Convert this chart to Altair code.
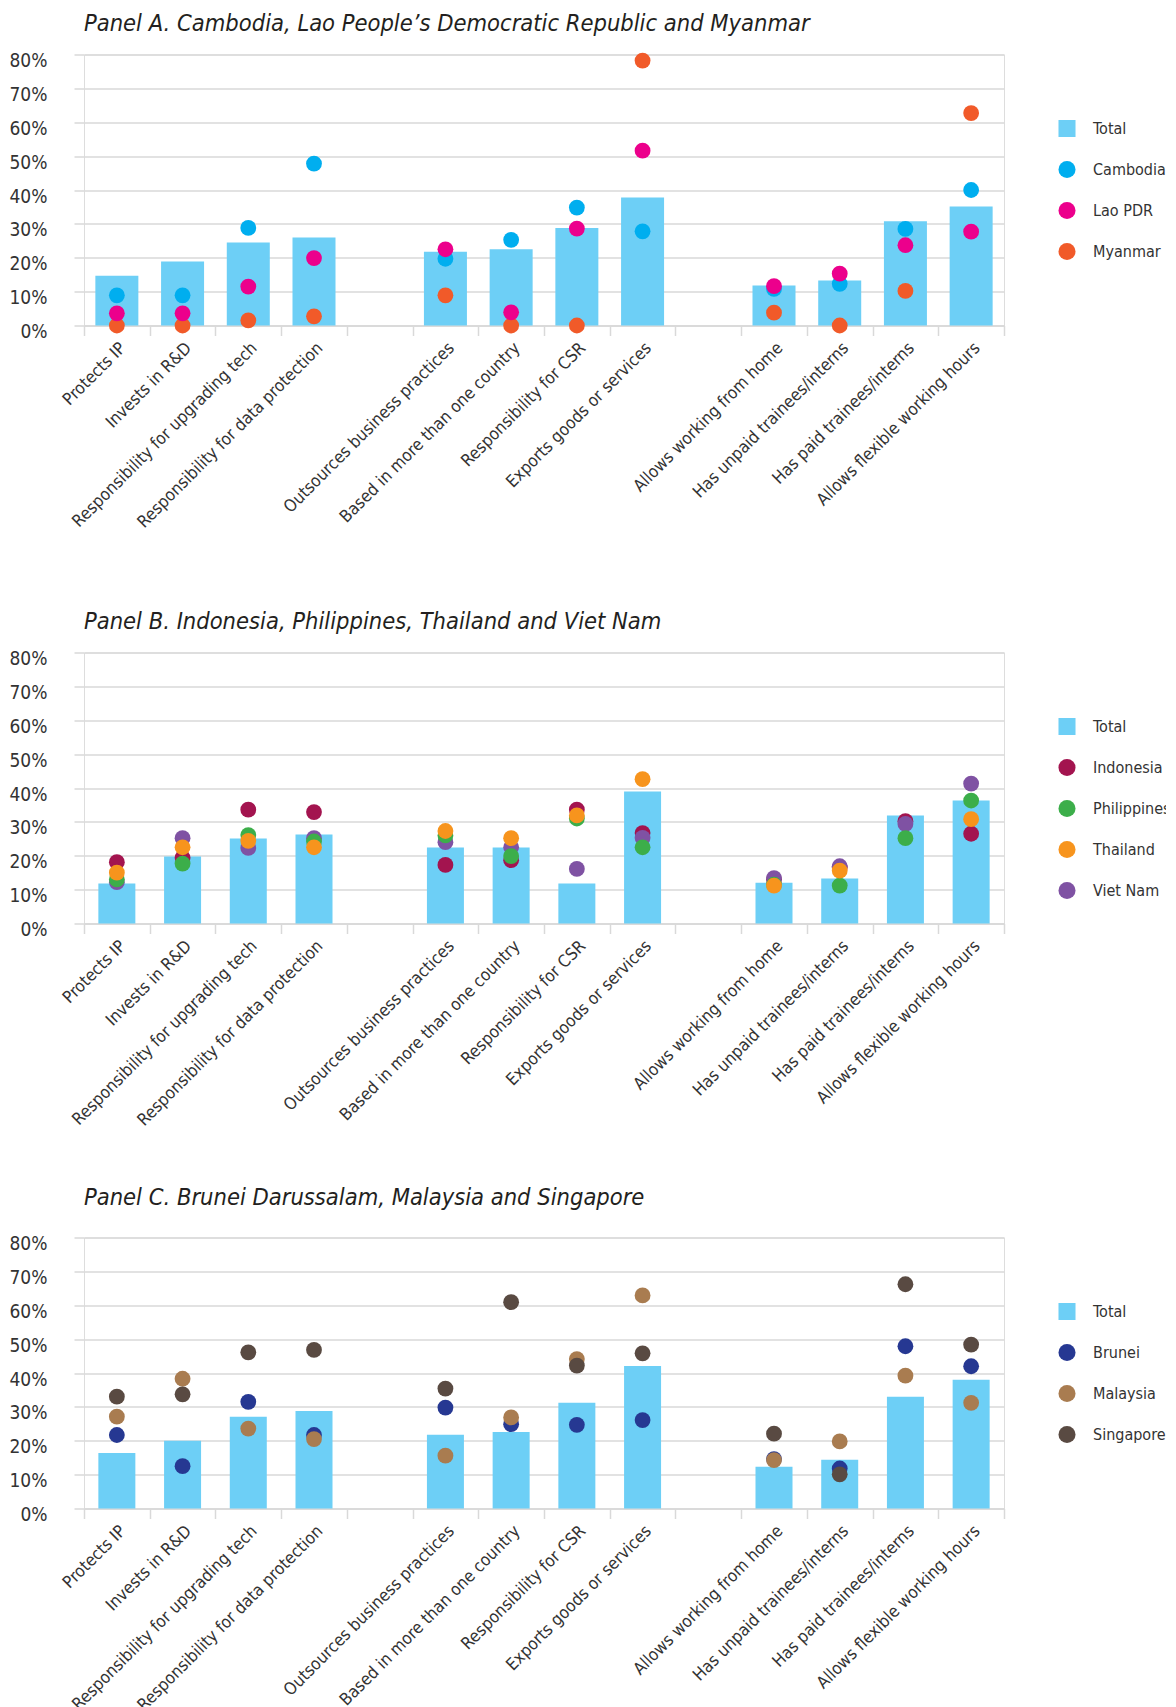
import altair as alt
import pandas as pd

# ---------------- data ----------------
AXIS_CATEGORIES = [
    "Protects IP", "Invests in R&D", "Responsibility for upgrading tech",
    "Responsibility for data protection", " ",
    "Outsources business practices", "Based in more than one country",
    "Responsibility for CSR", "Exports goods or services", "  ",
    "Allows working from home", "Has unpaid trainees/interns",
    "Has paid trainees/interns", "Allows flexible working hours",
]
CATEGORIES = [c for c in AXIS_CATEGORIES if c.strip()]

# Panel A
TOTAL_A = [14.7, 18.9, 24.5, 26.0, 21.8, 22.5, 28.8, 37.8, 11.8, 13.3, 30.8, 35.1]
MYANMAR = [0.0, 0.0, 1.5, 2.7, 8.9, 0.0, 0.0, 78.2, 3.8, 0.0, 10.2, 62.7]
CAMBODIA = [8.9, 8.9, 28.8, 47.8, 19.7, 25.3, 34.8, 27.8, 10.8, 12.3, 28.5, 40.0]
LAO = [3.6, 3.6, 11.5, 19.9, 22.5, 3.9, 28.6, 51.6, 11.6, 15.3, 23.7, 27.7]

# Panel B
TOTAL_B = [11.8, 19.8, 25.1, 26.3, 22.4, 22.4, 11.8, 39.0, 12.0, 13.3, 31.9, 36.3]
INDONESIA = [18.1, 19.4, 33.6, 32.9, 17.3, 18.7, 33.6, 26.7, 13.0, 16.5, 30.2, 26.5]
VIETNAM = [12.2, 25.2, 22.3, 25.2, 24.0, 22.5, 16.1, 25.3, 13.4, 16.9, 29.4, 41.3]
PHILIPPINES = [13.0, 17.7, 26.1, 24.2, 26.0, 19.9, 31.0, 22.5, 11.5, 11.2, 25.2, 36.3]
THAILAND = [15.0, 22.5, 24.4, 22.5, 27.3, 25.2, 31.9, 42.6, 11.2, 15.6, None, 30.8]

# Panel C
TOTAL_C = [16.4, 20.0, 27.1, 28.8, 21.8, 22.6, 31.2, 42.1, 12.3, 14.4, 33.0, 38.0]
BRUNEI = [21.7, 12.5, 31.5, 21.7, 29.8, 24.9, 24.7, 26.1, 14.6, 11.8, 47.9, 42.0]
MALAYSIA = [27.1, 38.3, 23.6, 20.5, 15.6, 26.9, 44.1, 62.9, 14.3, 19.8, 39.2, 31.2]
SINGAPORE = [33.0, 33.7, 46.1, 46.8, 35.4, 60.9, 42.2, 45.8, 22.1, 10.1, 66.2, 48.4]

Y_TICKS = [0, 10, 20, 30, 40, 50, 60, 70, 80]

# ---------------- style ----------------
FONT = "DejaVu Sans Condensed, Liberation Sans Narrow, Liberation Sans, sans-serif"
TEXT = "#333333"
GRID = "#d9d9d9"
TOTAL_COLOR = "#6dcff6"


def panel(title, legend_order, draw_order, colors, total, series, bar_size, title_offset):
    rows = [{"category": c, "series": "Total", "value": v} for c, v in zip(CATEGORIES, total)]
    for name in draw_order:
        for c, v in zip(CATEGORIES, series[name]):
            if v is None:
                continue
            rows.append({"category": c, "series": name, "value": v})
    df = pd.DataFrame(rows)
    domain = ["Total"] + legend_order
    color_scale = alt.Scale(domain=domain, range=[TOTAL_COLOR] + [colors[n] for n in legend_order])
    shape_scale = alt.Scale(domain=domain, range=["square"] + ["circle"] * len(legend_order))

    x = alt.X(
        "category:N",
        sort=AXIS_CATEGORIES,
        scale=alt.Scale(domain=AXIS_CATEGORIES, paddingInner=0, paddingOuter=0),
        title=None,
        axis=alt.Axis(
            labelAngle=-45, labelAlign="right", labelBaseline="top",
            tickBand="extent", tickSize=10, tickColor=GRID, tickWidth=1.5,
            domainColor=GRID, domainWidth=1.5, labelPadding=4,
            labelFont=FONT, labelFontSize=17, labelColor=TEXT, labelLimit=400,
            grid=False,
        ),
    )
    y = alt.Y(
        "value:Q",
        scale=alt.Scale(domain=[0, 80], nice=False),
        title=None,
        axis=alt.Axis(
            values=Y_TICKS, labelExpr="datum.value + '%'", domain=False,
            grid=True, gridColor=GRID, gridWidth=1.5,
            tickColor=GRID, tickWidth=1.5, tickSize=10, labelPadding=27,
            labelOffset=6,
            labelFont=FONT, labelFontSize=19, labelColor=TEXT,
        ),
    )
    legend = alt.Legend(
        title=None, orient="none", legendX=974, legendY=65,
        labelFont=FONT, labelFontSize=16, labelColor=TEXT,
        symbolSize=290, symbolOpacity=1, symbolStrokeWidth=0,
        rowPadding=23, labelOffset=17, padding=0,
    )
    bars = (
        alt.Chart(df)
        .transform_filter(alt.datum.series == "Total")
        .mark_bar(size=bar_size)
        .encode(x=x, y=y, color=alt.Color("series:N", scale=color_scale, legend=legend))
    )
    pts = (
        alt.Chart(df)
        .transform_filter(alt.datum.series != "Total")
        .mark_point(filled=True, opacity=1, size=250)
        .encode(
            x=x, y=y,
            color=alt.Color("series:N", scale=color_scale, legend=legend),
            shape=alt.Shape("series:N", scale=shape_scale, legend=legend),
        )
    )
    return alt.layer(bars, pts).properties(
        width=920, height=271,
        title=alt.TitleParams(
            title, anchor="start", frame="group", font=FONT, fontSize=23.5,
            fontStyle="italic", fontWeight="normal", color="#231f20",
            offset=title_offset, dx=0,
        ),
    )


panel_a = panel(
    "Panel A. Cambodia, Lao People\u2019s Democratic Republic and Myanmar",
    ["Cambodia", "Lao PDR", "Myanmar"],
    ["Myanmar", "Cambodia", "Lao PDR"],
    {"Cambodia": "#00aeef", "Lao PDR": "#ec008c", "Myanmar": "#f15a29"},
    TOTAL_A,
    {"Cambodia": CAMBODIA, "Lao PDR": LAO, "Myanmar": MYANMAR},
    43, 16,
)
panel_b = panel(
    "Panel B. Indonesia, Philippines, Thailand and Viet Nam",
    ["Indonesia", "Philippines", "Thailand", "Viet Nam"],
    ["Indonesia", "Viet Nam", "Philippines", "Thailand"],
    {"Indonesia": "#a3144f", "Philippines": "#3cae4a", "Thailand": "#f7941d", "Viet Nam": "#7f52a3"},
    TOTAL_B,
    {"Indonesia": INDONESIA, "Philippines": PHILIPPINES, "Thailand": THAILAND, "Viet Nam": VIETNAM},
    37, 16.5,
)
panel_c = panel(
    "Panel C. Brunei Darussalam, Malaysia and Singapore",
    ["Brunei", "Malaysia", "Singapore"],
    ["Brunei", "Malaysia", "Singapore"],
    {"Brunei": "#263892", "Malaysia": "#a97c50", "Singapore": "#594a42"},
    TOTAL_C,
    {"Brunei": BRUNEI, "Malaysia": MALAYSIA, "Singapore": SINGAPORE},
    37, 25,
)

top = alt.vconcat(panel_a, panel_b, spacing=77).resolve_scale(color="independent", shape="independent")
chart = (
    alt.vconcat(top, panel_c, spacing=56)
    .resolve_scale(color="independent", shape="independent")
    .configure_view(stroke=GRID, strokeWidth=1.5)
    .configure(padding={"top": 3.5, "left": 0, "right": -6, "bottom": -6}, background="white")
)

chart.save("out.html", embed_options={"renderer": "svg", "actions": False})
